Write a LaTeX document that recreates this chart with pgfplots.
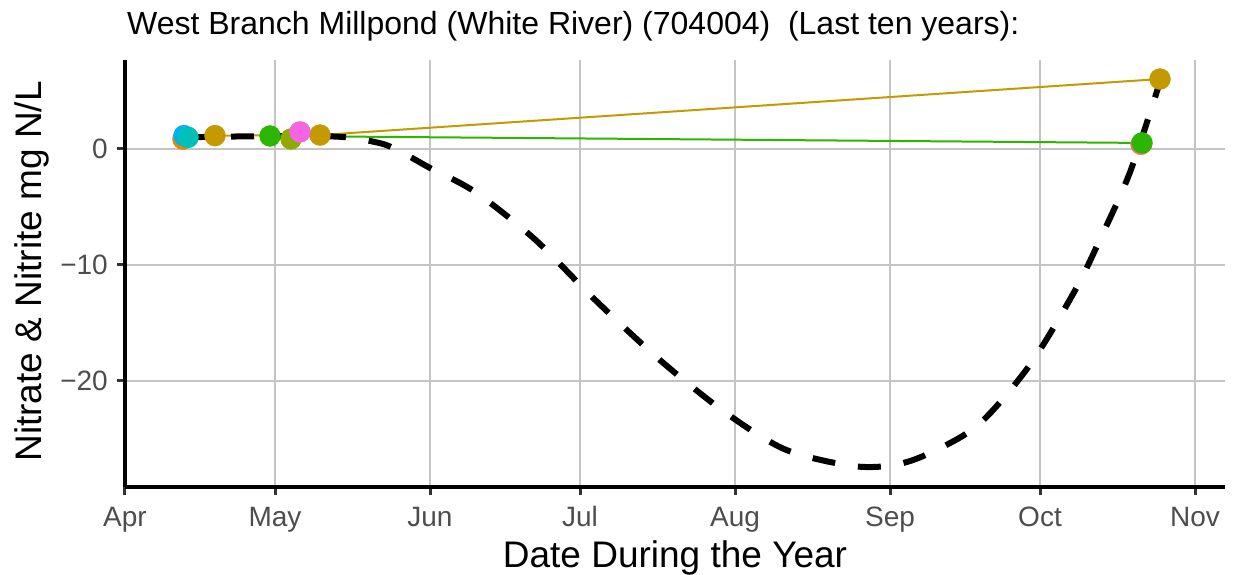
\documentclass[border=0pt]{standalone}
\usepackage{fontspec}
\setmainfont{Liberation Sans}
\usepackage{pgfplots}
\pgfplotsset{compat=1.18}
\definecolor{gridc}{HTML}{C4C4C4}
\definecolor{tickc}{HTML}{333333}
\definecolor{labc}{HTML}{4D4D4D}
\definecolor{cgold}{HTML}{C49A00}
\definecolor{cgreen}{HTML}{2DB600}
\definecolor{colive}{HTML}{8FAA00}
\definecolor{cpink}{HTML}{F564E3}
\definecolor{cteal}{HTML}{00C0B8}
\definecolor{cblue}{HTML}{00B0F6}
\definecolor{corange}{HTML}{E58700}
\definecolor{cred}{HTML}{F8766D}
\begin{document}
\begin{tikzpicture}
\useasboundingbox (-125pt,-88pt) rectangle (1108pt,487pt);
\begin{axis}[
  at={(0,0)}, anchor=south west,
  scale only axis, width=1100pt, height=427pt,
  xmin=91, xmax=311, ymin=-29.14, ymax=7.67,
  axis x line*=bottom, axis y line*=left,
  axis line style={line width=3.5pt, black, -},
  xtick={91,121,152,182,213,244,274,305},
  xticklabels={Apr,May,Jun,Jul,Aug,Sep,Oct,Nov},
  ytick={-20,-10,0}, yticklabels={−20,−10,0},
  tick align=outside, major tick length=8pt,
  tick style={line width=3pt, color=tickc},
  grid=major, major grid style={line width=2.2pt, gridc},
  ticklabel style={font=\fontsize{28}{30}\selectfont, text=labc},
  xticklabel style={anchor=base, yshift=-31pt},
  yticklabel style={anchor=east, inner sep=0pt, xshift=-9pt},
  title={West Branch Millpond (White River) (704004)\ \ (Last ten years):},
  title style={at={(axis description cs:0.0018,1.0445)}, anchor=base west, font=\fontsize{32}{34}\selectfont, inner sep=0pt},
  xlabel={Date During the Year},
  xlabel style={at={(axis description cs:0.5,-0.1875)}, anchor=base, font=\fontsize{37}{40}\selectfont, inner sep=0pt},
  ylabel={Nitrate \& Nitrite mg N/L},
  ylabel style={at={(axis description cs:-0.0755,0.505)}, anchor=base, font=\fontsize{37}{40}\selectfont, inner sep=0pt},
]
% connecting lines
\addplot[cgold, line width=2pt] coordinates {(109,1.15) (130,1.2) (298,6.03)};
\addplot[cgreen, line width=2pt] coordinates {(120,1.12) (294.4,0.52)};
% points
\addplot[only marks, mark=*, mark size=10.5pt, color=corange] coordinates {(102.6,0.85)};
\addplot[only marks, mark=*, mark size=10.5pt, color=cblue] coordinates {(102.8,1.15)};
\addplot[only marks, mark=*, mark size=10.5pt, color=cteal] coordinates {(103.6,1.0)};
\addplot[only marks, mark=*, mark size=10.5pt, color=cgold] coordinates {(109,1.15) (130,1.2) (298,6.03)};
\addplot[only marks, mark=*, mark size=10.5pt, color=cgreen] coordinates {(120,1.12)};
\addplot[only marks, mark=*, mark size=10.5pt, color=colive] coordinates {(124.2,0.86)};
\addplot[only marks, mark=*, mark size=10.5pt, color=cpink] coordinates {(126,1.47)};
\addplot[only marks, mark=*, mark size=10.5pt, color=cred] coordinates {(294.2,0.4)};
\addplot[only marks, mark=*, mark size=10.5pt, color=cgreen] coordinates {(294.4,0.52)};
% smooth trend (dashed)
\addplot[black, line width=6pt, dash pattern=on 23pt off 23pt, smooth, tension=0.5] coordinates {
(103,1.0) (109,1.05) (120,1.1) (134,1.05) (142,0.5) (146,-0.2) (152,-1.64) (161,-3.7) (173,-7.8) (185,-13.0) (198,-18.2) (211,-22.7) (223,-25.9) (236,-27.3) (244,-27.3) (251,-26.4) (261.6,-23.8) (272,-18.6) (281,-12.2) (286,-7.8) (292,-2.0) (298,5.8)};
\end{axis}
\end{tikzpicture}
\end{document}
